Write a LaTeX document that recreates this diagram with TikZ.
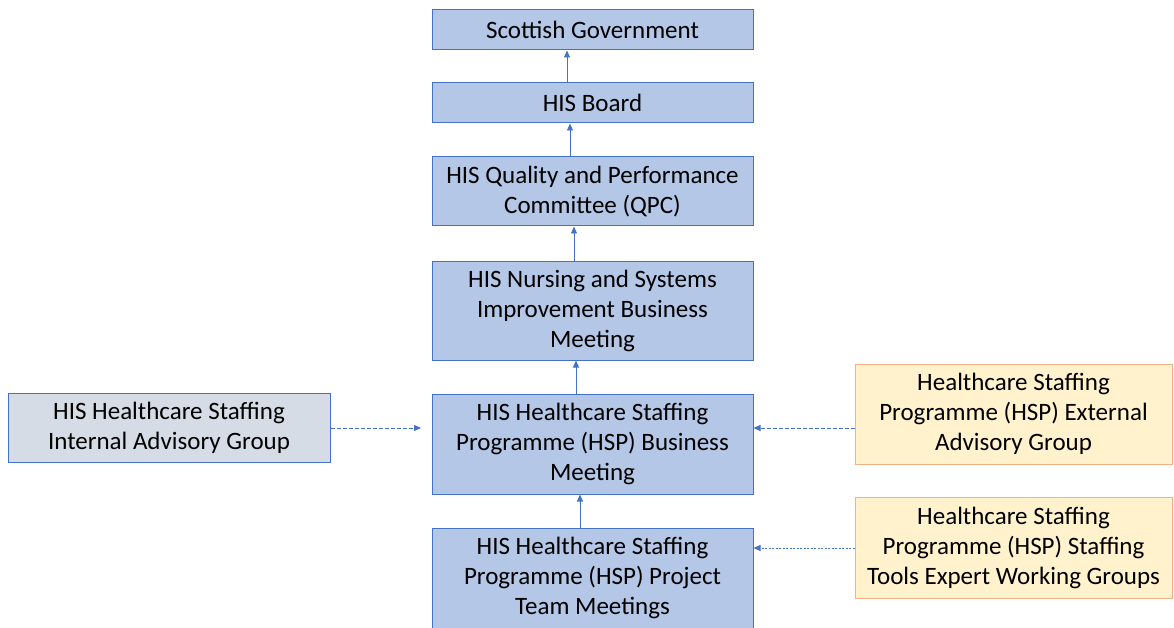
\documentclass[tikz,border=0pt]{standalone}
\usepackage{fontspec}
\setmainfont{Carlito}
\usetikzlibrary{arrows.meta}
\definecolor{boxblue}{HTML}{B4C7E7}
\definecolor{lineblue}{HTML}{4472C4}
\definecolor{greyblue}{HTML}{D6DCE5}
\definecolor{paleyellow}{HTML}{FFF2CC}
\definecolor{orangeedge}{HTML}{F4B183}
\begin{document}
\begin{tikzpicture}[x=1pt,y=1pt,
  every node/.style={font=\fontsize{25}{30}\selectfont, align=center, inner sep=0pt},
  mainbox/.style={draw=lineblue, fill=boxblue, line width=1pt, minimum width=321pt},
  internalbox/.style={draw=lineblue, fill=greyblue, line width=1pt, minimum width=322pt},
  externalbox/.style={draw=orangeedge, fill=paleyellow, line width=1pt, minimum width=317pt},
  uparrow/.style={draw=lineblue, line width=0.9pt, -{Triangle[length=7pt,width=6pt]}},
  dasharrow/.style={draw=lineblue, line width=0.9pt, dash pattern=on 4pt off 2pt, -{Triangle[length=7pt,width=6pt]}},
  dotarrow/.style={draw=lineblue, line width=0.9pt, dash pattern=on 2pt off 1.5pt, -{Triangle[length=7pt,width=6pt]}}]
\useasboundingbox (0,0) rectangle (1174,-628);

% governance chain
\node[mainbox, minimum height=40pt] (sg) at (592.5,-30) {Scottish Government};
\node[mainbox, minimum height=40pt] (board) at (592.5,-103) {HIS Board};
\node[mainbox, minimum height=69pt] (qpc) at (592.5,-191.5) {HIS Quality and Performance\\Committee (QPC)};
\node[mainbox, minimum height=99pt] (nsib) at (592.5,-310.5) {HIS Nursing and Systems\\Improvement Business\\Meeting};
\node[mainbox, minimum height=100pt] (bm) at (592.5,-444) {HIS Healthcare Staffing\\Programme (HSP) Business\\Meeting};
\node[mainbox, minimum height=100pt] (ptm) at (592.5,-578) {HIS Healthcare Staffing\\Programme (HSP) Project\\Team Meetings};

% advisory groups
\node[internalbox, minimum height=69pt] (iag) at (169,-427.5) {HIS Healthcare Staffing\\Internal Advisory Group};
\node[externalbox, minimum height=100pt] (eag) at (1013.5,-414) {Healthcare Staffing\\Programme (HSP) External\\Advisory Group};
\node[externalbox, minimum height=101pt] (stw) at (1013.5,-547.5) {Healthcare Staffing\\Programme (HSP) Staffing\\Tools Expert Working Groups};

% reporting lines
\coordinate (x1) at (567,0);
\coordinate (x2) at (570,0);
\coordinate (x3) at (574,0);
\coordinate (x4) at (576,0);
\coordinate (x5) at (580,0);
\draw[uparrow] (board.north -| x1) -- (sg.south -| x1);
\draw[uparrow] (qpc.north -| x2) -- (board.south -| x2);
\draw[uparrow] (nsib.north -| x3) -- (qpc.south -| x3);
\draw[uparrow] (bm.north -| x4) -- (nsib.south -| x4);
\draw[uparrow] (ptm.north -| x5) -- (bm.south -| x5);

% advisory inputs
\coordinate (iagend) at (421,-428);
\draw[dasharrow] (iag.east |- iagend) -- (iagend);
\coordinate (eagy) at (0,-428);
\draw[dasharrow] (eag.west |- eagy) -- (bm.east |- eagy);
\coordinate (stwy) at (0,-548);
\draw[dotarrow] (stw.west |- stwy) -- (ptm.east |- stwy);
\end{tikzpicture}
\end{document}
